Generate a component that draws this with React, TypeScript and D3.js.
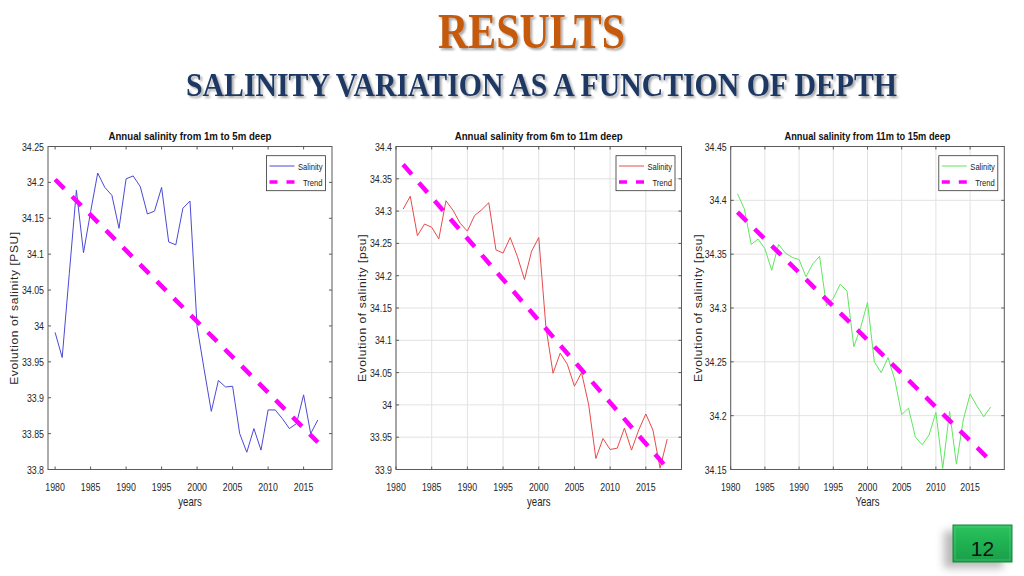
import React from 'react';
import * as d3 from 'd3';

// ---------- data ----------
const xTicks = [1980, 1985, 1990, 1995, 2000, 2005, 2010, 2015];

const start1 = 1980;
const salinity1 = [
  33.991, 33.956, 34.073, 34.189, 34.102, 34.159, 34.213, 34.193, 34.182, 34.136,
  34.205, 34.209, 34.194, 34.156, 34.160, 34.193, 34.117, 34.113, 34.164, 34.174,
  33.999, 33.939, 33.881, 33.924, 33.915, 33.916, 33.850, 33.824, 33.857, 33.827,
  33.883, 33.883, 33.871, 33.857, 33.864, 33.904, 33.850, 33.869,
];
const trendYears1 = [1980, 2017];
const trend1 = [34.204, 33.838];
const yTicks1 = [33.8, 33.85, 33.9, 33.95, 34, 34.05, 34.1, 34.15, 34.2, 34.25];

const start2 = 1981;
const salinity2 = [
  34.303, 34.323, 34.262, 34.280, 34.275, 34.257, 34.316, 34.301, 34.281, 34.269,
  34.293, 34.302, 34.313, 34.240, 34.235, 34.259, 34.230, 34.194, 34.238, 34.259,
  34.121, 34.049, 34.080, 34.063, 34.029, 34.050, 34.000, 33.917, 33.948, 33.931,
  33.933, 33.964, 33.930, 33.961, 33.986, 33.961, 33.902, 33.947,
];
const trendYears2 = [1981, 2018];
const trend2 = [34.372, 33.902];
const yTicks2 = [33.9, 33.95, 34, 34.05, 34.1, 34.15, 34.2, 34.25, 34.3, 34.35, 34.4];

const start3 = 1981;
const salinity3 = [
  34.406, 34.392, 34.359, 34.364, 34.355, 34.335, 34.359, 34.351, 34.347, 34.345,
  34.329, 34.341, 34.348, 34.302, 34.309, 34.322, 34.316, 34.264, 34.282, 34.305,
  34.250, 34.240, 34.254, 34.233, 34.201, 34.207, 34.180, 34.173, 34.182, 34.203,
  34.151, 34.204, 34.155, 34.196, 34.220, 34.209, 34.199, 34.208,
];
const trendYears3 = [1981, 2018];
const trend3 = [34.389, 34.158];
const yTicks3 = [34.15, 34.2, 34.25, 34.3, 34.35, 34.4, 34.45];

const legendLabels = ['Salinity', 'Trend'];

// ---------- helpers ----------
const SX = 0.8;
const SANS = 'Liberation Sans, Arial, sans-serif';
const SERIF = 'Liberation Serif, Times New Roman, serif';

function T(props: any) {
  const { x, y, sx = SX, children, ...rest } = props;
  return (
    <text transform={`translate(${x},${y}) scale(${sx},1)`} {...rest}>
      {children}
    </text>
  );
}

type PanelProps = {
  left: number;
  right: number;
  xDomain: [number, number];
  yDomain: [number, number];
  yTicks: number[];
  start: number;
  values: number[];
  trendYears: number[];
  trendVals: number[];
  color: string;
  grid: boolean;
  title: string;
  titleLen: number;
  yLabel: string;
  yLabelX: number;
  xLabel: string;
};

const TOP = 146.5;
const BOTTOM = 469.5;

function Panel(p: PanelProps) {
  const x = d3.scaleLinear().domain(p.xDomain).range([p.left, p.right]);
  const y = d3.scaleLinear().domain(p.yDomain).range([BOTTOM, TOP]);
  const pts = p.values.map((v, i) => [p.start + i, v] as [number, number]);
  const line = d3
    .line<[number, number]>()
    .x((d) => x(d[0]))
    .y((d) => y(d[1]));
  const trendPts = p.trendYears.map((yr, i) => [yr, p.trendVals[i]] as [number, number]);
  const fmt = (v: number) => String(Number(v.toFixed(2)));
  const cx = (p.left + p.right) / 2;
  const cy = (TOP + BOTTOM) / 2;
  const axisColor = '#5a5a5a';
  const lgRight = p.right - 6.5;
  const lgLeft = lgRight - 59;
  const lgTop = 155.7;
  return (
    <g>
      {p.grid && (
        <g stroke="#e2e2e2" strokeWidth={1}>
          {xTicks.map((t) => (
            <line key={'gx' + t} x1={x(t)} x2={x(t)} y1={TOP} y2={BOTTOM} />
          ))}
          {p.yTicks.map((t) => (
            <line key={'gy' + t} x1={p.left} x2={p.right} y1={y(t)} y2={y(t)} />
          ))}
        </g>
      )}
      {/* ticks (inward, all sides) */}
      <g stroke={axisColor} strokeWidth={1}>
        {xTicks.map((t) => (
          <g key={'tx' + t}>
            <line x1={x(t)} x2={x(t)} y1={BOTTOM} y2={BOTTOM - 3} />
            <line x1={x(t)} x2={x(t)} y1={TOP} y2={TOP + 3} />
          </g>
        ))}
        {p.yTicks.map((t) => (
          <g key={'ty' + t}>
            <line x1={p.left} x2={p.left + 3} y1={y(t)} y2={y(t)} />
            <line x1={p.right} x2={p.right - 3} y1={y(t)} y2={y(t)} />
          </g>
        ))}
      </g>
      {/* data */}
      <path d={line(pts) || ''} fill="none" stroke={p.color} strokeWidth={1} />
      <path
        d={line(trendPts) || ''}
        fill="none"
        stroke="#ff00ff"
        strokeWidth={4.5}
        strokeDasharray="13 11"
      />
      {/* frame */}
      <rect
        x={p.left}
        y={TOP}
        width={p.right - p.left}
        height={BOTTOM - TOP}
        fill="none"
        stroke={axisColor}
        strokeWidth={1}
      />
      {/* tick labels */}
      <g fontFamily={SANS} fontSize={11} fill="#262626">
        {xTicks.map((t) => (
          <T key={'lx' + t} x={x(t)} y={BOTTOM + 21.5} textAnchor="middle">
            {t}
          </T>
        ))}
        {p.yTicks.map((t) => (
          <T key={'ly' + t} x={p.left - 4} y={y(t) + 4} textAnchor="end">
            {fmt(t)}
          </T>
        ))}
      </g>
      {/* title */}
      <text
        x={cx}
        y={139.5}
        textAnchor="middle"
        fontFamily={SANS}
        fontWeight="bold"
        fontSize={11.5}
        fill="#111"
        textLength={p.titleLen}
        lengthAdjust="spacingAndGlyphs"
      >
        {p.title}
      </text>
      {/* x label */}
      <T x={cx} y={506} textAnchor="middle" fontFamily={SANS} fontSize={12} fill="#262626">
        {p.xLabel}
      </T>
      {/* y label */}
      <text
        transform={`translate(${p.yLabelX + 4},${cy}) rotate(-90) scale(1,0.85)`}
        textAnchor="middle"
        fontFamily={SANS}
        fontSize={12}
        letterSpacing={0.6}
        fill="#262626"
      >
        {p.yLabel}
      </text>
      {/* legend */}
      <rect x={lgLeft} y={lgTop} width={59} height={35} fill="#fff" stroke="#333" strokeWidth={0.8} />
      <line x1={lgLeft + 3} x2={lgLeft + 28} y1={166} y2={166} stroke={p.color} strokeWidth={1} />
      <line
        x1={lgLeft + 3}
        x2={lgLeft + 28}
        y1={182}
        y2={182}
        stroke="#ff00ff"
        strokeWidth={3.5}
        strokeDasharray="8 9"
      />
      <g fontFamily={SANS} fontSize={9.5} fill="#222">
        <T x={lgRight - 3} y={169.5} textAnchor="end">
          {legendLabels[0]}
        </T>
        <T x={lgRight - 3} y={185.5} textAnchor="end">
          {legendLabels[1]}
        </T>
      </g>
    </g>
  );
}

export default function App() {
  return (
    <svg
      width={1024}
      height={576}
      viewBox="0 0 1024 576"
      style={{ position: 'absolute', left: 0, top: 0, display: 'block', background: '#fff' }}
    >
      <defs>
        <filter id="shadow" x="-10%" y="-30%" width="120%" height="160%">
          <feDropShadow dx="2" dy="2" stdDeviation="1.2" floodColor="#000" floodOpacity="0.35" />
        </filter>
        <filter id="boxShadow" x="-50%" y="-50%" width="200%" height="200%">
          <feGaussianBlur stdDeviation="4" />
        </filter>
        <linearGradient id="greenGrad" x1="0" y1="0" x2="0" y2="1">
          <stop offset="0" stopColor="#2cc35e" />
          <stop offset="0.5" stopColor="#1fb152" />
          <stop offset="1" stopColor="#1a9e48" />
        </linearGradient>
      </defs>
      <rect x={0} y={0} width={1024} height={576} fill="#fff" />

      <text
        x={531.5}
        y={48}
        textAnchor="middle"
        fontFamily={SERIF}
        fontWeight="bold"
        fontSize={51}
        fill="#c55a11"
        textLength={187}
        lengthAdjust="spacingAndGlyphs"
        filter="url(#shadow)"
      >
        RESULTS
      </text>
      <text
        x={541.5}
        y={96}
        textAnchor="middle"
        fontFamily={SERIF}
        fontWeight="bold"
        fontSize={34.5}
        fill="#1f3864"
        textLength={711}
        lengthAdjust="spacingAndGlyphs"
        filter="url(#shadow)"
      >
        SALINITY VARIATION AS A FUNCTION OF DEPTH
      </text>

      <Panel
        left={48}
        right={332}
        xDomain={[1979, 2019]}
        yDomain={[33.8, 34.25]}
        yTicks={yTicks1}
        start={start1}
        values={salinity1}
        trendYears={trendYears1}
        trendVals={trend1}
        color="#4a4ad6"
        grid={false}
        title="Annual salinity from 1m to 5m deep"
        titleLen={163}
        yLabel="Evolution of salinity [PSU]"
        yLabelX={14}
        xLabel="years"
      />
      <Panel
        left={396}
        right={681.5}
        xDomain={[1980, 2020]}
        yDomain={[33.9, 34.4]}
        yTicks={yTicks2}
        start={start2}
        values={salinity2}
        trendYears={trendYears2}
        trendVals={trend2}
        color="#e84a4a"
        grid={true}
        title="Annual salinity from 6m to 11m deep"
        titleLen={168}
        yLabel="Evolution of salinity [psu]"
        yLabelX={362}
        xLabel="years"
      />
      <Panel
        left={730.7}
        right={1004.3}
        xDomain={[1980, 2020]}
        yDomain={[34.15, 34.45]}
        yTicks={yTicks3}
        start={start3}
        values={salinity3}
        trendYears={trendYears3}
        trendVals={trend3}
        color="#5fe65f"
        grid={true}
        title="Annual salinity from 11m to 15m deep"
        titleLen={166}
        yLabel="Evolution of salinity [psu]"
        yLabelX={698}
        xLabel="Years"
      />

      {/* page number box */}
      <rect x={944} y={531} width={59} height={37} fill="#8a8a8a" opacity={0.6} filter="url(#boxShadow)" />
      <rect x={953} y={525} width={59} height={37} fill="url(#greenGrad)" stroke="#17883c" strokeWidth={1} />
      <rect x={955} y={527} width={55} height={33} fill="none" stroke="#5fd98a" strokeWidth={0.8} opacity={0.6} />
      <text x={982.5} y={555.5} textAnchor="middle" fontFamily="Liberation Sans, Arial, sans-serif" fontSize={21} fill="#111">
        12
      </text>
    </svg>
  );
}
